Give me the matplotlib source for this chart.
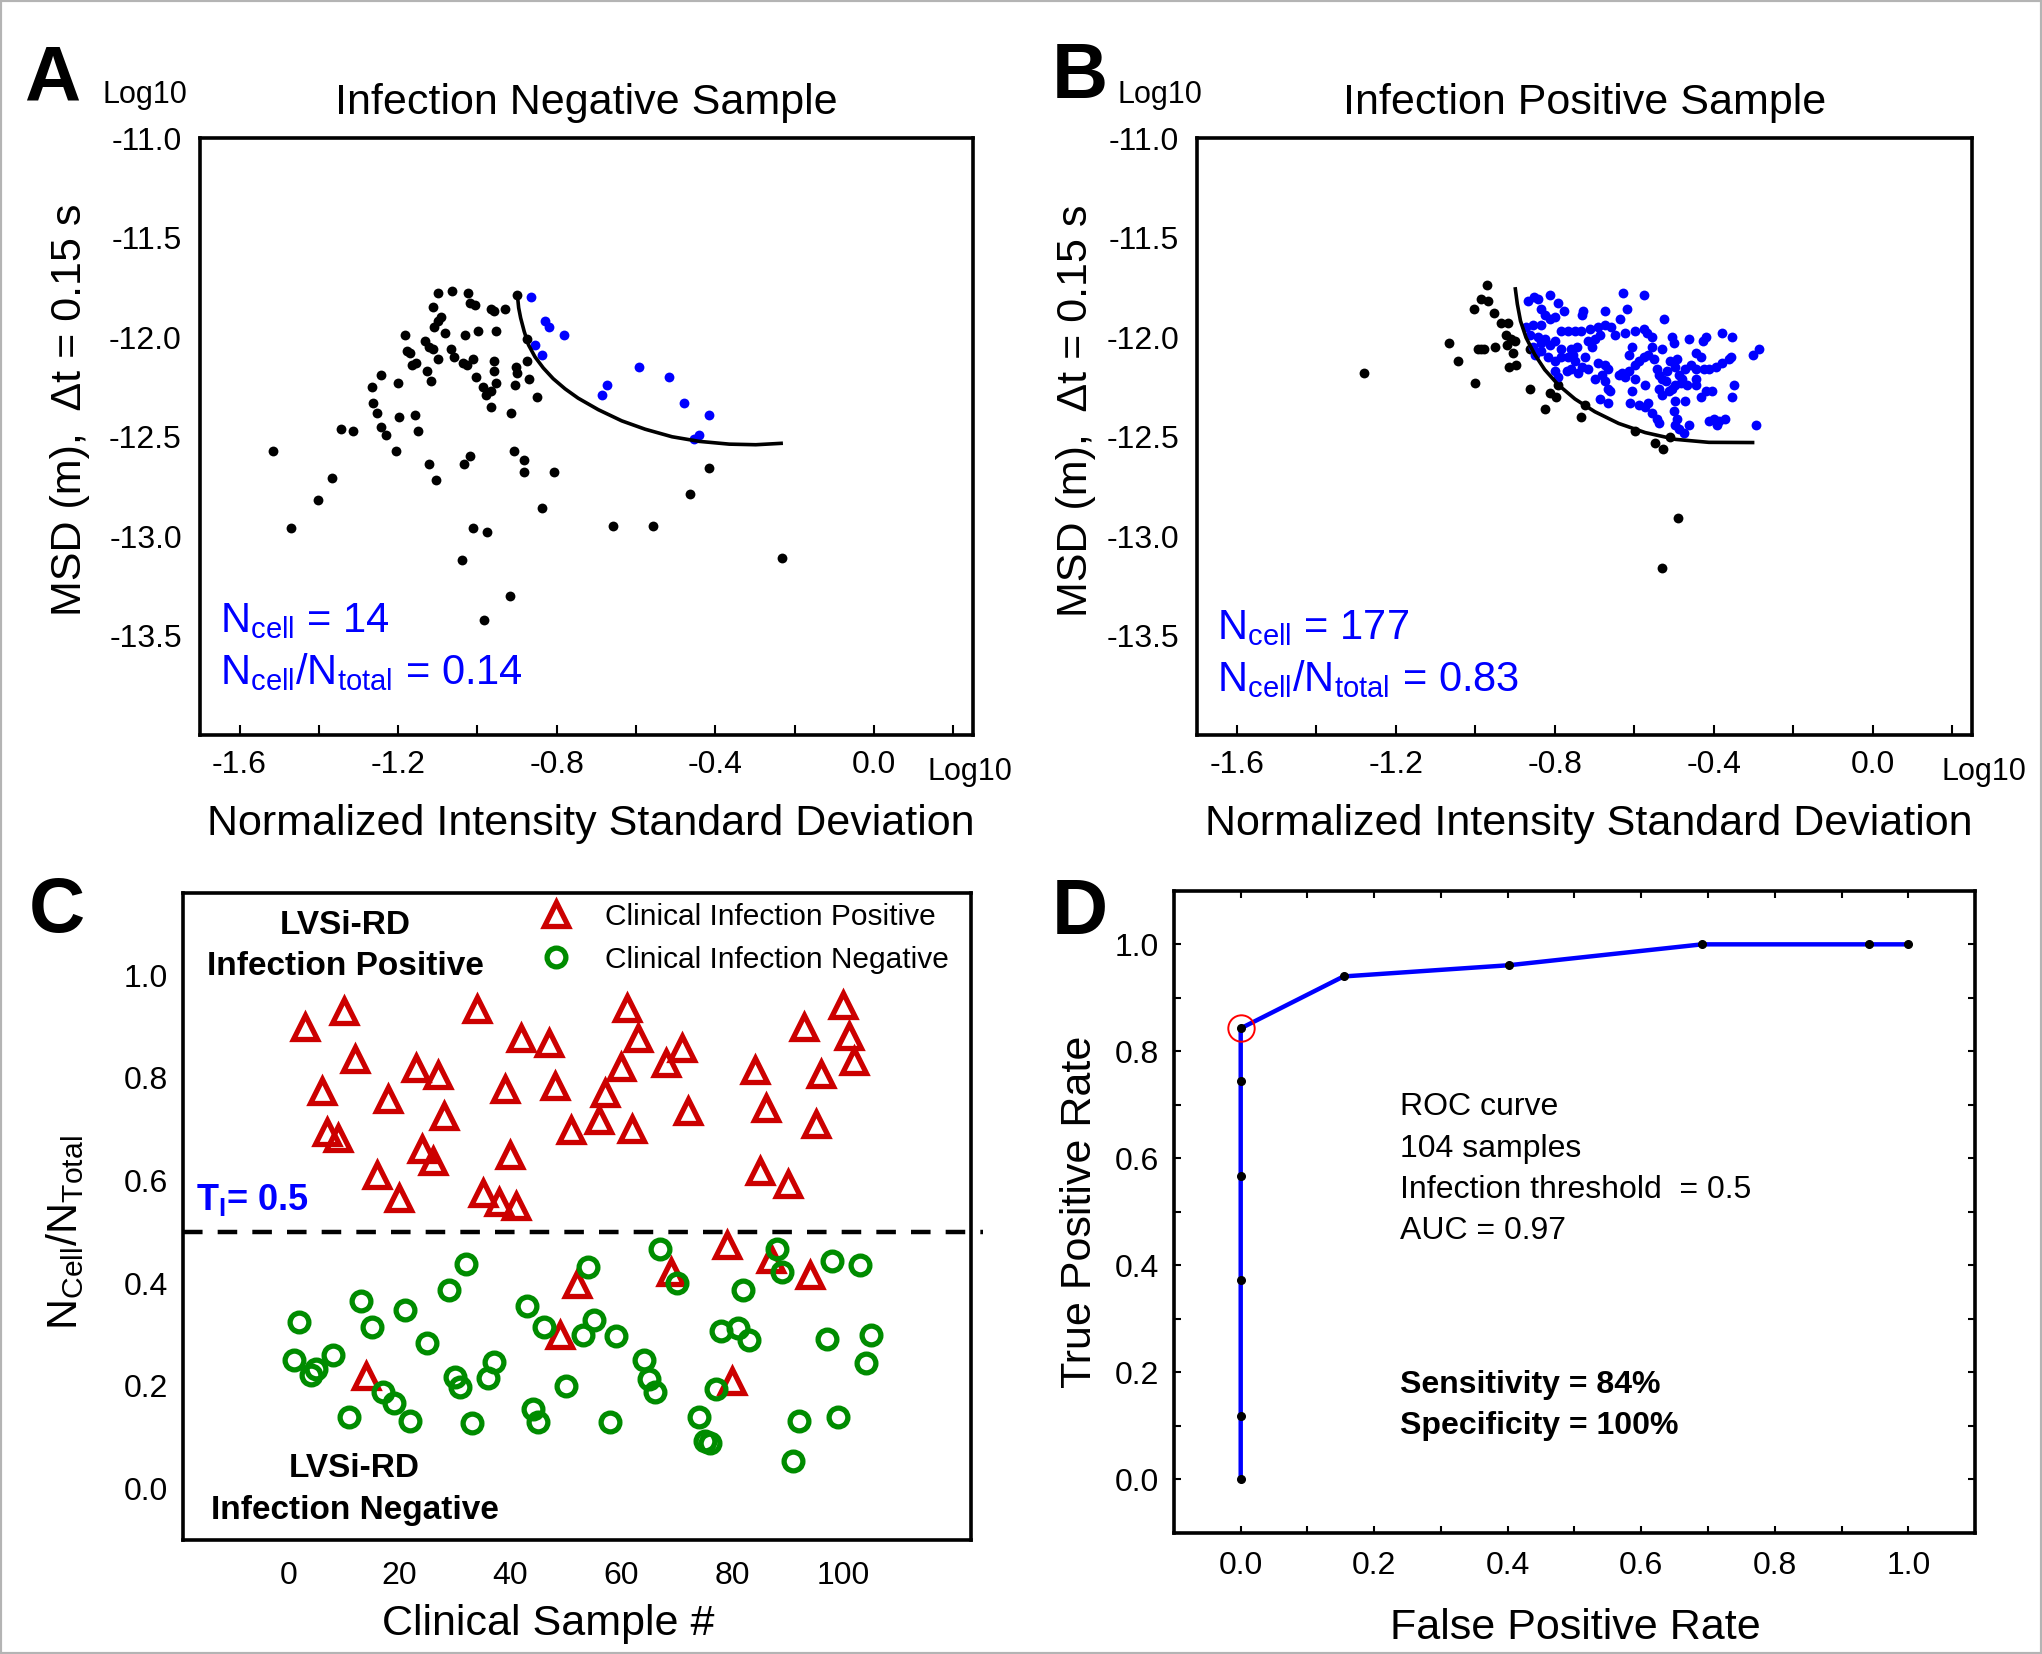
import matplotlib
matplotlib.use("Agg")
import matplotlib.pyplot as plt
from matplotlib.lines import Line2D
from matplotlib.patches import Rectangle
from matplotlib.ticker import MultipleLocator

plt.rcParams['font.family'] = ['Liberation Sans', 'DejaVu Sans']
plt.rcParams['mathtext.fontset'] = 'custom'
plt.rcParams['mathtext.rm'] = 'Liberation Sans'
plt.rcParams['mathtext.it'] = 'Liberation Sans:italic'
plt.rcParams['mathtext.bf'] = 'Liberation Sans:bold'
plt.rcParams['axes.unicode_minus'] = False

# ---- panel A : infection negative sample (log10 values) ----
a_black_x = [-1.099, -1.065, -1.024, -1.020, -1.007, -0.965, -0.958, -0.930, -0.899, -1.111,
             -1.092, -1.100, -1.109, -1.082, -1.031, -0.999, -0.953, -1.182, -1.133, -1.122,
             -1.113, -1.067, -1.058, -1.037, -1.026, -1.012, -0.957, -0.874, -0.876, -1.178,
             -1.170, -1.164, -1.155, -1.100, -1.127, -1.117, -0.957, -0.953, -1.003, -0.986,
             -0.978, -0.967, -0.902, -0.899, -0.871, -0.904, -0.851, -1.242, -1.266, -1.200,
             -1.263, -1.253, -1.198, -1.158, -1.242, -1.231, -1.149, -1.345, -1.313, -1.205,
             -0.965, -0.916, -1.515, -1.367, -1.401, -1.469, -1.121, -1.104, -1.034, -1.020,
             -0.908, -0.882, -0.882, -0.808, -0.836, -1.012, -0.975, -1.039, -0.919, -0.984,
             -0.658, -0.558, -0.465, -0.416, -0.232]
a_black_y = [-11.78, -11.77, -11.78, -11.83, -11.84, -11.86, -11.87, -11.86, -11.79, -11.85,
             -11.90, -11.92, -11.95, -11.98, -11.99, -11.97, -11.97, -11.99, -12.02, -12.05,
             -12.06, -12.06, -12.10, -12.13, -12.14, -12.11, -12.12, -12.01, -12.12, -12.07,
             -12.08, -12.14, -12.13, -12.11, -12.17, -12.22, -12.17, -12.23, -12.20, -12.25,
             -12.29, -12.27, -12.15, -12.18, -12.21, -12.24, -12.30, -12.19, -12.25, -12.23,
             -12.33, -12.38, -12.40, -12.39, -12.45, -12.49, -12.47, -12.46, -12.47, -12.57,
             -12.35, -12.38, -12.57, -12.71, -12.82, -12.96, -12.64, -12.72, -12.64, -12.60,
             -12.57, -12.62, -12.68, -12.68, -12.86, -12.96, -12.98, -13.12, -13.30, -13.42,
             -12.95, -12.95, -12.79, -12.66, -13.11]
a_blue_x = [-0.864, -0.830, -0.819, -0.781, -0.855, -0.838, -0.674, -0.685, -0.593, -0.516,
            -0.479, -0.416, -0.440, -0.454]
a_blue_y = [-11.80, -11.92, -11.95, -11.99, -12.04, -12.09, -12.24, -12.29, -12.15, -12.20,
            -12.33, -12.39, -12.49, -12.51]
a_curve_x = [-0.899, -0.896, -0.891, -0.882, -0.871, -0.855, -0.834, -0.809, -0.779, -0.746,
             -0.695, -0.636, -0.577, -0.509, -0.441, -0.365, -0.298, -0.234]
a_curve_y = [-11.794, -11.853, -11.904, -11.972, -12.040, -12.099, -12.155, -12.209, -12.260,
             -12.307, -12.365, -12.421, -12.463, -12.501, -12.524, -12.538, -12.541, -12.534]

# ---- panel B : infection positive sample ----
b_black_x = [-0.970, -0.986, -0.969, -1.004, -0.953, -0.935, -0.918, -1.066, -0.994, -0.986,
             -0.979, -0.950, -0.922, -0.910, -0.899, -0.920, -0.905, -1.043, -0.914, -0.897,
             -1.281, -1.001, -0.863, -0.813, -0.796, -0.825, -0.734, -0.724, -0.597, -0.547,
             -0.528, -0.509, -0.489, -0.531, -0.861, -0.791]
b_black_y = [-11.74, -11.81, -11.82, -11.86, -11.88, -11.93, -11.93, -12.03, -12.06, -12.06,
             -12.06, -12.05, -11.99, -12.01, -12.02, -12.04, -12.08, -12.12, -12.15, -12.14,
             -12.18, -12.23, -12.26, -12.28, -12.30, -12.36, -12.40, -12.34, -12.47, -12.53,
             -12.56, -12.50, -12.91, -13.16, -12.06, -12.24]
b_blue_x = [-0.867, -0.852, -0.842, -0.813, -0.791, -0.776, -0.728, -0.732, -0.673, -0.629,
            -0.574, -0.618, -0.834, -0.825, -0.813, -0.800, -0.835, -0.855, -0.872, -0.635,
            -0.526, -0.783, -0.766, -0.749, -0.734, -0.711, -0.690, -0.673, -0.658, -0.648,
            -0.623, -0.597, -0.576, -0.568, -0.863, -0.842, -0.825, -0.813, -0.800, -0.783,
            -0.758, -0.745, -0.715, -0.699, -0.686, -0.707, -0.606, -0.555, -0.530, -0.504,
            -0.500, -0.462, -0.428, -0.420, -0.378, -0.353, -0.445, -0.433, -0.357, -0.287,
            -0.302, -0.834, -0.850, -0.817, -0.800, -0.783, -0.749, -0.732, -0.715, -0.690,
            -0.673, -0.665, -0.639, -0.623, -0.614, -0.597, -0.589, -0.576, -0.564, -0.551,
            -0.542, -0.538, -0.530, -0.517, -0.509, -0.496, -0.488, -0.479, -0.471, -0.458,
            -0.445, -0.424, -0.412, -0.395, -0.378, -0.361, -0.800, -0.791, -0.770, -0.758,
            -0.741, -0.699, -0.682, -0.673, -0.665, -0.661, -0.631, -0.606, -0.572, -0.538,
            -0.530, -0.513, -0.504, -0.496, -0.483, -0.466, -0.445, -0.433, -0.420, -0.403,
            -0.348, -0.353, -0.496, -0.471, -0.610, -0.589, -0.572, -0.564, -0.555, -0.542,
            -0.538, -0.686, -0.665, -0.500, -0.492, -0.496, -0.488, -0.462, -0.475, -0.412,
            -0.399, -0.386, -0.371, -0.391, -0.293, -0.521, -0.724, -0.766, -0.753, -0.834,
            -0.855, -0.492, -0.555, -0.614, -0.597, -0.445]
b_blue_y = [-11.82, -11.80, -11.81, -11.79, -11.83, -11.87, -11.87, -11.89, -11.87, -11.78,
            -11.79, -11.86, -11.86, -11.89, -11.91, -11.90, -11.94, -11.94, -11.95, -11.91,
            -11.91, -11.97, -11.97, -11.97, -11.97, -11.96, -11.95, -11.94, -11.95, -11.99,
            -11.98, -11.97, -11.96, -11.98, -11.99, -12.00, -12.01, -12.04, -12.02, -12.06,
            -12.06, -12.05, -12.02, -12.01, -11.99, -12.05, -12.05, -12.05, -12.06, -12.00,
            -12.03, -12.01, -12.02, -12.00, -11.98, -12.00, -12.08, -12.10, -12.10, -12.06,
            -12.09, -12.07, -12.09, -12.10, -12.12, -12.10, -12.12, -12.15, -12.16, -12.13,
            -12.14, -12.16, -12.19, -12.20, -12.17, -12.14, -12.12, -12.10, -12.09, -12.11,
            -12.16, -12.19, -12.21, -12.17, -12.12, -12.15, -12.19, -12.21, -12.16, -12.14,
            -12.16, -12.16, -12.16, -12.15, -12.13, -12.11, -12.17, -12.20, -12.17, -12.16,
            -12.18, -12.21, -12.19, -12.22, -12.26, -12.27, -12.18, -12.27, -12.24, -12.26,
            -12.29, -12.27, -12.26, -12.24, -12.23, -12.24, -12.24, -12.30, -12.27, -12.27,
            -12.24, -12.30, -12.32, -12.32, -12.33, -12.34, -12.35, -12.33, -12.38, -12.41,
            -12.43, -12.31, -12.33, -12.37, -12.41, -12.44, -12.46, -12.44, -12.48, -12.42,
            -12.41, -12.42, -12.41, -12.44, -12.44, -12.22, -12.10, -12.10, -12.09, -12.03,
            -12.05, -12.11, -12.00, -12.09, -12.21, -12.21]
b_curve_x = [-0.899, -0.894, -0.886, -0.872, -0.850, -0.825, -0.791, -0.749, -0.699, -0.639,
             -0.572, -0.496, -0.412, -0.302]
b_curve_y = [-11.758, -11.834, -11.919, -12.003, -12.088, -12.164, -12.240, -12.311, -12.375,
             -12.434, -12.480, -12.514, -12.529, -12.530]

# ---- panel C : clinical samples ----
pos_sample = [3, 6, 7, 9, 10, 12, 14, 16, 18, 20, 23, 24, 26, 27, 28, 34, 35, 38, 39, 40,
              41, 42, 47, 48, 49, 51, 52, 56, 57, 60, 61, 62, 63, 68, 69, 71, 72, 79, 80, 84,
              85, 86, 87, 90, 93, 94, 95, 96, 100, 101, 102]
pos_ratio = [0.900, 0.775, 0.695, 0.683, 0.930, 0.836, 0.220, 0.611, 0.759, 0.567,
             0.819, 0.662, 0.639, 0.806, 0.726, 0.934, 0.576, 0.558, 0.779, 0.650,
             0.550, 0.877, 0.867, 0.785, 0.299, 0.698, 0.398, 0.718, 0.770, 0.821,
             0.937, 0.701, 0.877, 0.828, 0.422, 0.859, 0.736, 0.475, 0.210, 0.816,
             0.619, 0.741, 0.447, 0.593, 0.900, 0.417, 0.711, 0.808, 0.942, 0.881, 0.833]
neg_sample = [1, 2, 4, 5, 8, 11, 13, 15, 17, 19, 21, 22, 25, 29, 30, 31, 32, 33, 36, 37,
              43, 44, 45, 46, 50, 53, 54, 55, 58, 59, 64, 65, 66, 67, 70, 74, 75, 76, 77, 78,
              81, 82, 83, 88, 89, 91, 92, 97, 98, 99, 103, 104, 105]
neg_ratio = [0.251, 0.324, 0.222, 0.234, 0.260, 0.139, 0.365, 0.314, 0.189, 0.167,
             0.347, 0.132, 0.284, 0.386, 0.217, 0.198, 0.437, 0.128, 0.216, 0.247,
             0.355, 0.155, 0.130, 0.314, 0.200, 0.300, 0.431, 0.329, 0.129, 0.297,
             0.251, 0.214, 0.189, 0.466, 0.400, 0.139, 0.093, 0.089, 0.194, 0.308,
             0.312, 0.386, 0.289, 0.466, 0.422, 0.053, 0.132, 0.291, 0.443, 0.139,
             0.435, 0.245, 0.299]
threshold = 0.5

# ---- panel D : ROC ----
fpr = [0.0, 0.0, 0.0, 0.0, 0.0, 0.0, 0.154, 0.402, 0.691, 0.941, 1.0]
tpr = [0.0, 0.118, 0.372, 0.568, 0.744, 0.843, 0.940, 0.961, 1.0, 1.0, 1.0]
best = 5

BLUE = '#0000ff'
RED = '#cc0000'
GREEN = '#008c00'
LABEL = 31
TICK = 23

fig = plt.figure(figsize=(20.42, 16.54), dpi=100)
fig.patches.append(Rectangle((0, 0), 1, 1, transform=fig.transFigure, fill=False,
                             edgecolor='#b4b4b4', linewidth=3))


def frame(ax):
    for s in ax.spines.values():
        s.set_linewidth(2.6)
        s.set_color('black')


def msd_axes(ax, title, bx, by, cx, cy, curve_x, curve_y, n_text, n_y):
    ax.scatter(bx, by, s=50, color='black', linewidths=0, zorder=3)
    ax.scatter(cx, cy, s=50, color=BLUE, linewidths=0, zorder=3)
    ax.plot(curve_x, curve_y, color='black', lw=2.6, zorder=4)
    ax.set_xlim(-1.7, 0.25)
    ax.set_ylim(-14.0, -11.0)
    ax.set_xticks([-1.6, -1.2, -0.8, -0.4, 0.0])
    ax.xaxis.set_minor_locator(MultipleLocator(0.2))
    ax.set_yticks([-13.5, -13.0, -12.5, -12.0, -11.5, -11.0])
    ax.tick_params(axis='x', which='both', direction='in', length=7, width=1.5,
                   labelsize=TICK, pad=11)
    ax.tick_params(axis='y', which='both', length=0, labelsize=TICK, pad=13)
    ax.set_title(title, fontsize=LABEL, pad=17)
    ax.set_xlabel('Normalized Intensity Standard Deviation', fontsize=LABEL)
    ax.set_ylabel('MSD (m),  \u0394t = 0.15 s', fontsize=LABEL)
    ax.yaxis.label.set_verticalalignment('center')
    ax.xaxis.label.set_verticalalignment('center')
    ax.xaxis.set_label_coords(0.506, -0.149)
    ax.text(-1.65, n_y[0], n_text[0], color=BLUE, fontsize=30, va='baseline')
    ax.text(-1.65, n_y[1], n_text[1], color=BLUE, fontsize=30, va='baseline')
    frame(ax)


axA = fig.add_axes([0.0979, 0.5556, 0.3786, 0.3609])
msd_axes(axA, 'Infection Negative Sample', a_black_x, a_black_y, a_blue_x, a_blue_y,
         a_curve_x, a_curve_y,
         [r'N$_{\mathrm{cell}}$ = 14', r'N$_{\mathrm{cell}}$/N$_{\mathrm{total}}$ = 0.14'],
         [-13.485, -13.745])
axA.yaxis.set_label_coords(-0.168, 0.544)

axB = fig.add_axes([0.5862, 0.5556, 0.3795, 0.3609])
msd_axes(axB, 'Infection Positive Sample', b_black_x, b_black_y, b_blue_x, b_blue_y,
         b_curve_x, b_curve_y,
         [r'N$_{\mathrm{cell}}$ = 177', r'N$_{\mathrm{cell}}$/N$_{\mathrm{total}}$ = 0.83'],
         [-13.52, -13.78])
axB.yaxis.set_label_coords(-0.156, 0.543)

# ---- C ----
axC = fig.add_axes([0.0896, 0.0689, 0.3859, 0.3912])
axC.plot(pos_sample, pos_ratio, linestyle='none', marker='^', markersize=17,
         markerfacecolor='none', markeredgecolor=RED, markeredgewidth=3.8, zorder=3)
axC.plot(neg_sample, neg_ratio, linestyle='none', marker='o', markersize=13.5,
         markerfacecolor='none', markeredgecolor=GREEN, markeredgewidth=3.8, zorder=4)
axC.axhline(threshold, xmax=1.015, color='black', lw=3.2, dashes=(4.4, 3.4), zorder=2,
            clip_on=False)
axC.set_xlim(-19, 123)
axC.set_ylim(-0.1, 1.16)
axC.set_xticks([0, 20, 40, 60, 80, 100])
axC.set_yticks([0.0, 0.2, 0.4, 0.6, 0.8, 1.0])
axC.tick_params(length=0, labelsize=TICK)
axC.tick_params(axis='x', pad=15)
axC.tick_params(axis='y', pad=11)
axC.set_xlabel('Clinical Sample #', fontsize=LABEL)
axC.set_ylabel(r'N$_{\mathrm{Cell}}$/N$_{\mathrm{Total}}$', fontsize=LABEL)
axC.xaxis.label.set_verticalalignment('center')
axC.yaxis.label.set_verticalalignment('center')
axC.xaxis.set_label_coords(0.463, -0.130)
axC.yaxis.set_label_coords(-0.150, 0.4745)
axC.text(10.3, 1.097, 'LVSi-RD', fontsize=24, fontweight='bold', ha='center', va='center')
axC.text(10.3, 1.016, 'Infection Positive', fontsize=24, fontweight='bold', ha='center', va='center')
axC.text(11.9, 0.039, 'LVSi-RD', fontsize=24, fontweight='bold', ha='center', va='center')
axC.text(11.9, -0.042, 'Infection Negative', fontsize=24, fontweight='bold', ha='center', va='center')
axC.text(-16.7, 0.542, r'T$_{\mathbf{I}}$= 0.5', color=BLUE, fontsize=26, fontweight='bold',
         va='baseline')
handles = [Line2D([], [], linestyle='none', marker='^', markersize=17, markerfacecolor='none',
                  markeredgecolor=RED, markeredgewidth=3.8),
           Line2D([], [], linestyle='none', marker='o', markersize=13.5, markerfacecolor='none',
                  markeredgecolor=GREEN, markeredgewidth=3.8)]
axC.legend(handles, ['Clinical Infection Positive', 'Clinical Infection Negative'],
           loc='upper left', bbox_to_anchor=(0.445, 0.985), frameon=False, fontsize=21.5,
           handlelength=1.5, handletextpad=0.9, labelspacing=0.5, borderpad=0,
           borderaxespad=0)
frame(axC)

# ---- D ----
axD = fig.add_axes([0.5749, 0.0732, 0.3923, 0.3882])
axD.plot(fpr, tpr, color=BLUE, lw=3.2, zorder=3)
axD.plot(fpr, tpr, linestyle='none', marker='o', markersize=5.5, color='black', zorder=4)
axD.plot(fpr[best], tpr[best], linestyle='none', marker='o', markersize=19,
         markerfacecolor='none', markeredgecolor='red', markeredgewidth=1.4, zorder=5)
axD.set_xlim(-0.1, 1.1)
axD.set_ylim(-0.1, 1.1)
axD.set_xticks([0.0, 0.2, 0.4, 0.6, 0.8, 1.0])
axD.set_yticks([0.0, 0.2, 0.4, 0.6, 0.8, 1.0])
axD.xaxis.set_minor_locator(MultipleLocator(0.1))
axD.yaxis.set_minor_locator(MultipleLocator(0.1))
axD.tick_params(which='both', direction='in', top=True, right=True, length=5, width=1.5,
                labelsize=TICK)
axD.tick_params(axis='x', pad=13)
axD.tick_params(axis='y', pad=11)
axD.set_xlabel('False Positive Rate', fontsize=LABEL)
axD.set_ylabel('True Positive Rate', fontsize=LABEL)
axD.xaxis.label.set_verticalalignment('center')
axD.yaxis.label.set_verticalalignment('center')
axD.xaxis.set_label_coords(0.501, -0.148)
axD.yaxis.set_label_coords(-0.117, 0.5)
roc_lines = ['ROC curve', '104 samples', 'Infection threshold  = 0.5', 'AUC = 0.97']
roc_y = [0.696, 0.618, 0.541, 0.464]
for txt, yy in zip(roc_lines, roc_y):
    axD.text(0.239, yy, txt, fontsize=23, va='center')
axD.text(0.239, 0.177, 'Sensitivity = 84%', fontsize=23, fontweight='bold', va='center')
axD.text(0.239, 0.100, 'Specificity = 100%', fontsize=23, fontweight='bold', va='center')
frame(axD)

# panel letters and log10 units
for lx, ly, letter in [(0.0118, 0.9395, 'A'), (0.5152, 0.9408, 'B'),
                       (0.0142, 0.4365, 'C'), (0.5152, 0.4353, 'D')]:
    fig.text(lx, ly, letter, fontsize=56, fontweight='bold', va='baseline')
for lx, ly in [(0.050, 0.9377), (0.5475, 0.9377), (0.454, 0.5284), (0.951, 0.5284)]:
    fig.text(lx, ly, 'Log10', fontsize=22, va='baseline')

fig.savefig('out.png', dpi=100)
